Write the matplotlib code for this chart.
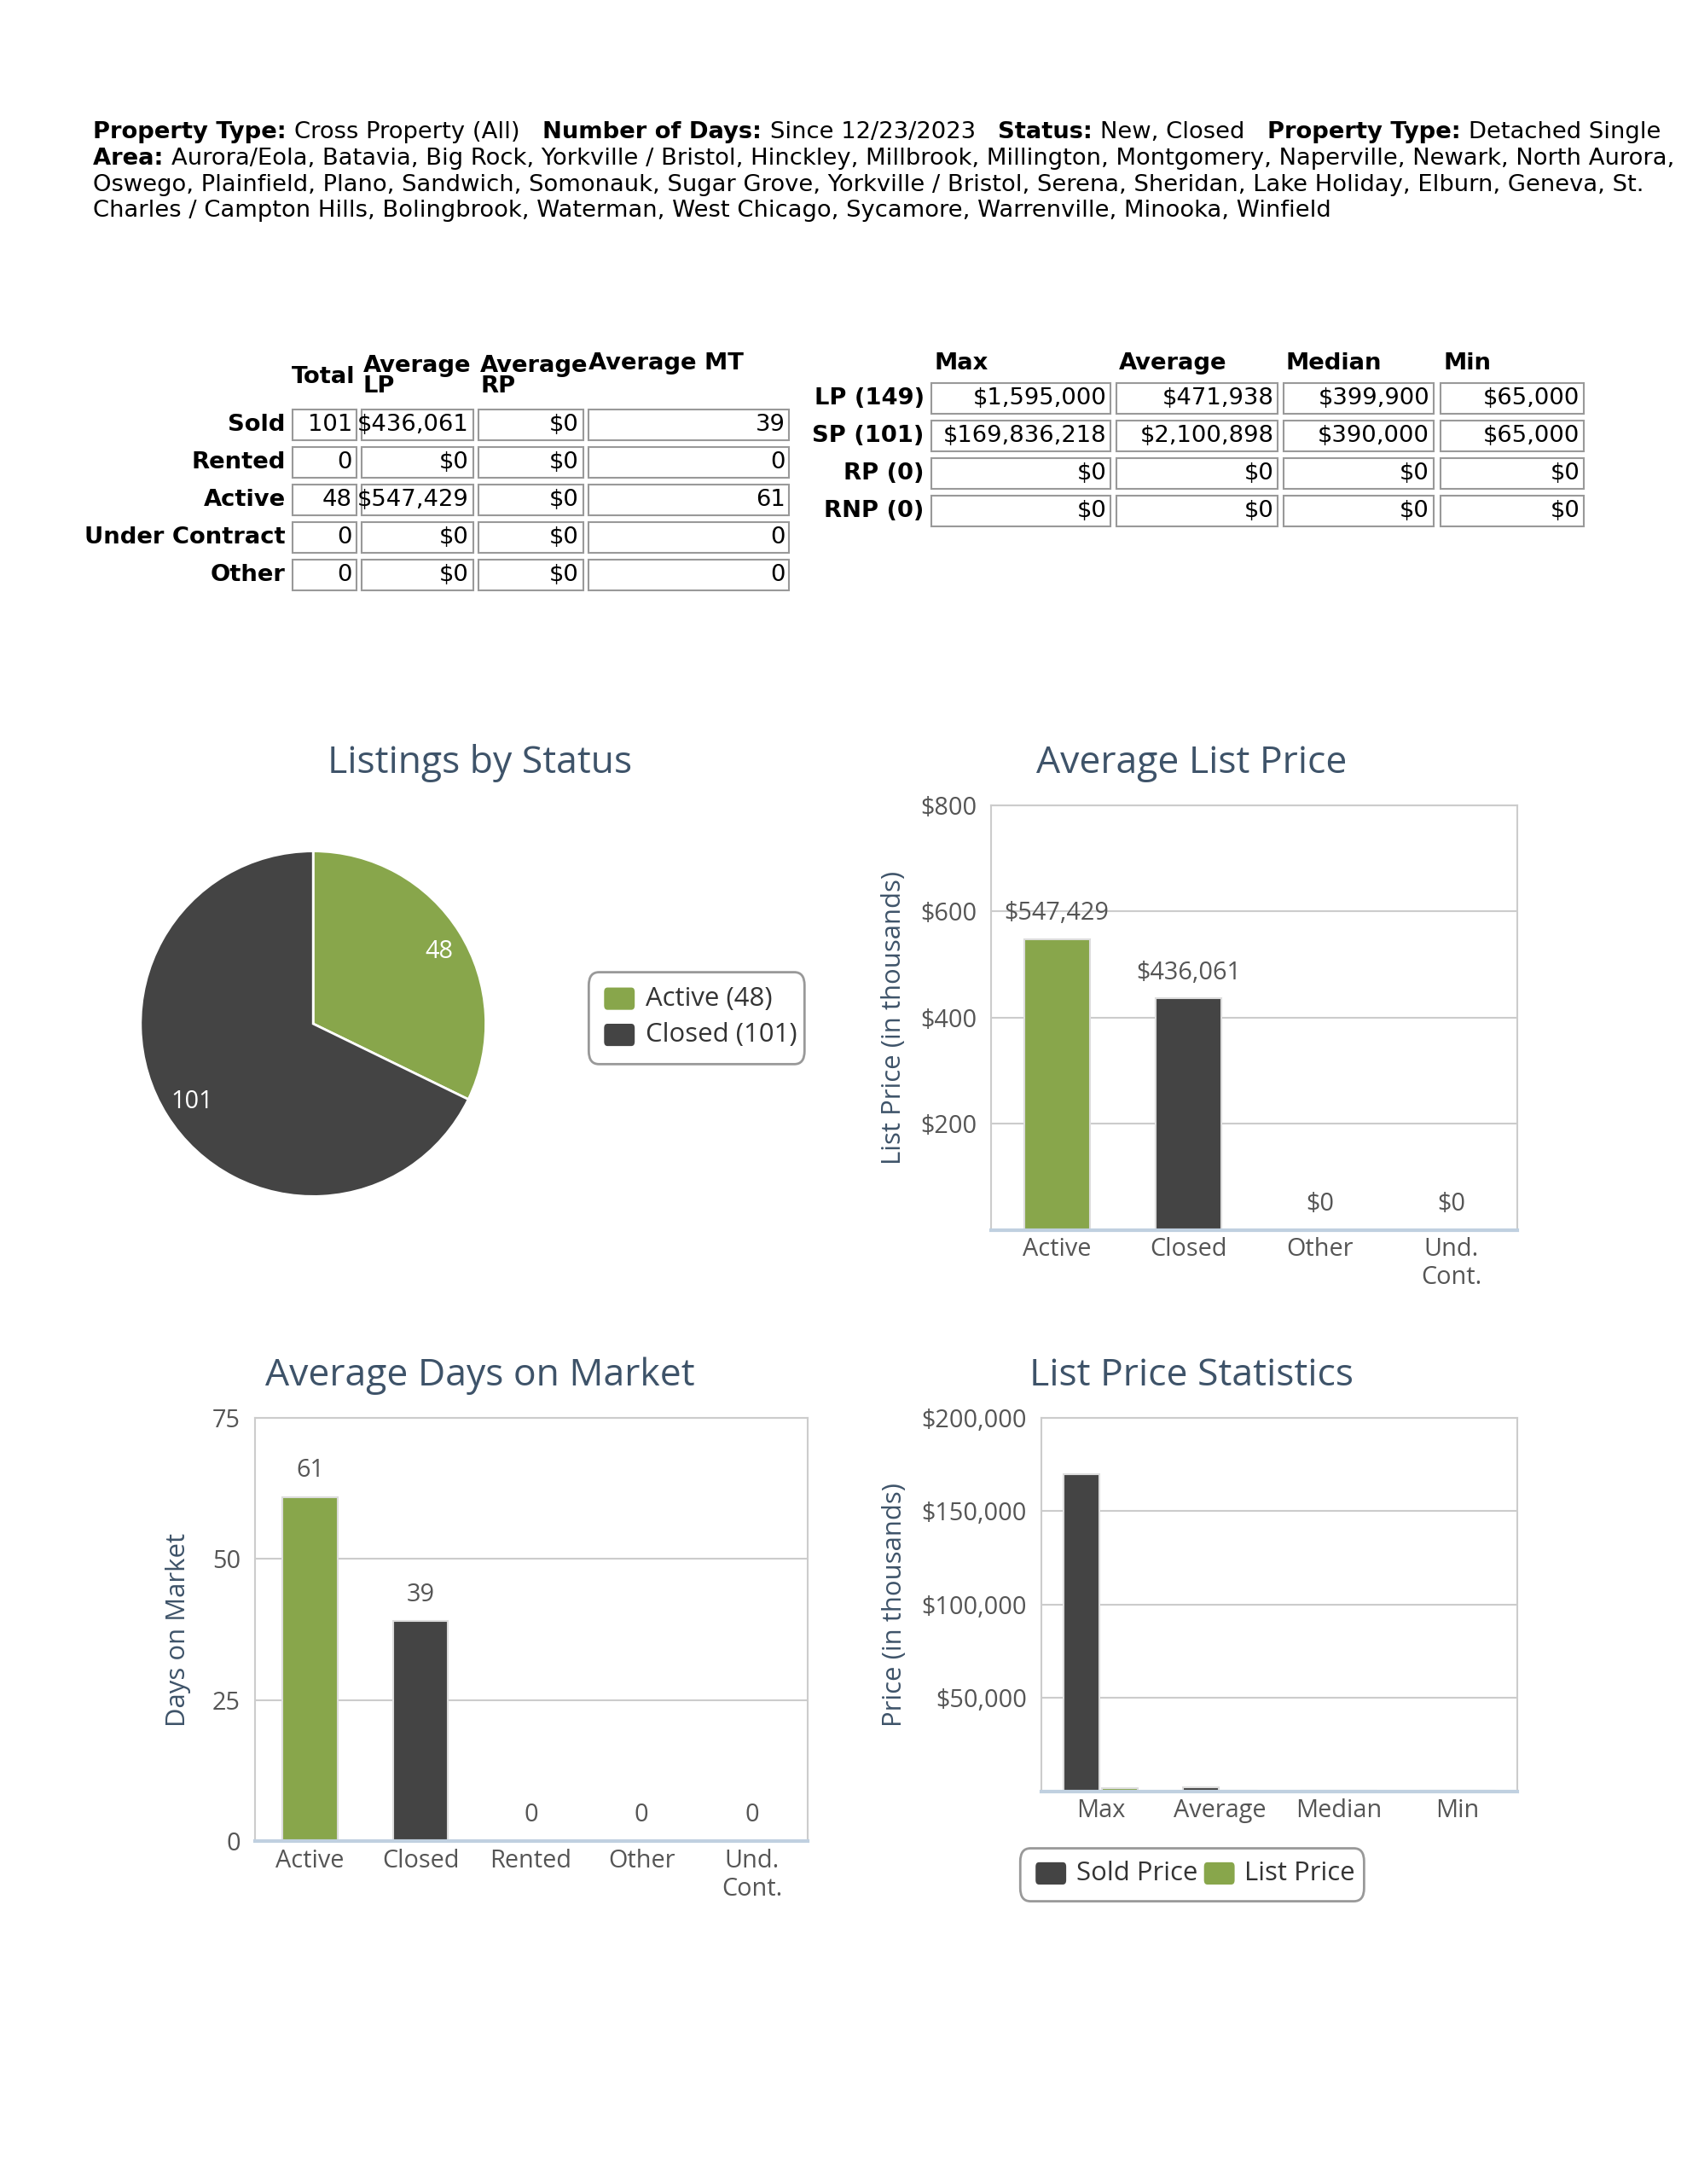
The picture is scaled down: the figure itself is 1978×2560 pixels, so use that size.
import matplotlib
matplotlib.use("Agg")
import matplotlib.pyplot as plt
from matplotlib.patches import Rectangle, FancyBboxPatch
import numpy as np

plt.rcParams['font.family'] = ['Open Sans', 'DejaVu Sans']

GREEN = '#88a64b'
DARK = '#444444'
TITLE = '#3e5369'
TXT = '#555555'
K = 1.6  # font scale

header = [
    [("Property Type: ", True), ("Cross Property (All)   ", False), ("Number of Days: ", True),
     ("Since 12/23/2023   ", False), ("Status: ", True), ("New, Closed   ", False),
     ("Property Type: ", True), ("Detached Single", False)],
    [("Area: ", True), ("Aurora/Eola, Batavia, Big Rock, Yorkville / Bristol, Hinckley, Millbrook, Millington, Montgomery, Naperville, Newark, North Aurora,", False)],
    [("Oswego, Plainfield, Plano, Sandwich, Somonauk, Sugar Grove, Yorkville / Bristol, Serena, Sheridan, Lake Holiday, Elburn, Geneva, St.", False)],
    [("Charles / Campton Hills, Bolingbrook, Waterman, West Chicago, Sycamore, Warrenville, Minooka, Winfield", False)],
]

lt_rows = ["Sold", "Rented", "Active", "Under Contract", "Other"]
lt_total = ["101", "0", "48", "0", "0"]
lt_avg_lp = ["$436,061", "$0", "$547,429", "$0", "$0"]
lt_avg_rp = ["$0", "$0", "$0", "$0", "$0"]
lt_avg_mt = ["39", "0", "61", "0", "0"]

rt_rows = ["LP (149)", "SP (101)", "RP (0)", "RNP (0)"]
rt_max = ["$1,595,000", "$169,836,218", "$0", "$0"]
rt_avg = ["$471,938", "$2,100,898", "$0", "$0"]
rt_med = ["$399,900", "$390,000", "$0", "$0"]
rt_min = ["$65,000", "$65,000", "$0", "$0"]

pie_labels = ["Active", "Closed"]
pie_values = [48, 101]

alp_cats = ["Active", "Closed", "Other", "Und.\nCont."]
alp_vals = [547.429, 436.061, 0, 0]
alp_lbls = ["$547,429", "$436,061", "$0", "$0"]

dom_cats = ["Active", "Closed", "Rented", "Other", "Und.\nCont."]
dom_vals = [61, 39, 0, 0, 0]

lps_cats = ["Max", "Average", "Median", "Min"]
lps_sold = [169836.218, 2100.898, 390.0, 65.0]
lps_list = [1595.0, 471.938, 399.9, 65.0]

W, H = 1212.0, 1568.0
fig = plt.figure(figsize=(19.78, 25.6), dpi=100)
r_ = fig.canvas.get_renderer()

def fx(x): return x / W
def fy(y): return 1 - y / H

FS = 12.3 * K
TF = ['DejaVu Sans']
for i, line in enumerate(header):
    y = [95, 114, 133, 151][i]
    x = fx(67)
    for s, b in line:
        txt = fig.text(x, fy(y), s, fontsize=FS, fontweight='bold' if b else 'normal',
                       va='center', ha='left', family=TF)
        bb = txt.get_window_extent(renderer=r_)
        x += bb.width / fig.bbox.width

def cell(x0, x1, yc, text, fs=12.3 * K):
    h = 22
    fig.add_artist(Rectangle((fx(x0), fy(yc + h / 2)), fx(x1 - x0), (h / H),
                             transform=fig.transFigure, fill=False, ec='#999999', lw=1.5))
    fig.text(fx(x1 - 3), fy(yc), text, ha='right', va='center', fontsize=fs, family=TF)

TB = 12.3 * K
cols = [(210, 256), (260, 340), (344, 419), (423, 567)]
fig.text(fx(255), fy(271), "Total", ha='right', va='center', fontsize=TB, fontweight='bold', family=TF)
fig.text(fx(261), fy(270), "Average\nLP", ha='left', va='center', fontsize=TB, fontweight='bold', family=TF, linespacing=0.9)
fig.text(fx(345), fy(270), "Average\nRP", ha='left', va='center', fontsize=TB, fontweight='bold', family=TF, linespacing=0.9)
fig.text(fx(423), fy(261), "Average MT", ha='left', va='center', fontsize=TB, fontweight='bold', family=TF)
for i, r in enumerate(lt_rows):
    yc = 305 + 27 * i
    fig.text(fx(205), fy(yc), r, ha='right', va='center', fontsize=TB, fontweight='bold', family=TF)
    for (x0, x1), v in zip(cols, [lt_total[i], lt_avg_lp[i], lt_avg_rp[i], lt_avg_mt[i]]):
        cell(x0, x1, yc, v)

rcols = [(669, 798), (802, 918), (922, 1030), (1035, 1138)]
for (x0, _), hd in zip(rcols, ["Max", "Average", "Median", "Min"]):
    fig.text(fx(x0 + 2), fy(261), hd, ha='left', va='center', fontsize=TB, fontweight='bold', family=TF)
for i, r in enumerate(rt_rows):
    yc = 286 + 27 * i
    fig.text(fx(664), fy(yc), r, ha='right', va='center', fontsize=TB, fontweight='bold', family=TF)
    for (x0, x1), v in zip(rcols, [rt_max[i], rt_avg[i], rt_med[i], rt_min[i]]):
        cell(x0, x1, yc, v)

# pie
r = 124
axp = fig.add_axes([fx(225 - r), fy(735 + r), fx(2 * r), 2 * r / H])
wedges, _ = axp.pie(pie_values, colors=[GREEN, DARK], startangle=90, counterclock=False,
                    wedgeprops=dict(ec='white', lw=2))
axp.set_xlim(-1, 1); axp.set_ylim(-1, 1)
axp.set_aspect('equal')
axp.text(0.73, 0.42, str(pie_values[0]), color='white', fontsize=13 * K, ha='center', va='center')
axp.text(-0.7, -0.45, str(pie_values[1]), color='white', fontsize=13 * K, ha='center', va='center')
fig.text(fx(345), fy(548), "Listings by Status", ha='center', va='center', fontsize=20 * K, color=TITLE)
fig.add_artist(FancyBboxPatch((fx(423), fy(764)), fx(155), 66 / H, transform=fig.transFigure,
                              boxstyle='round,pad=0,rounding_size=0.006', fill=False, ec='#999999', lw=2))
for i, (lab, c) in enumerate(zip(pie_labels, [GREEN, DARK])):
    yc = 717 + 26 * i
    fig.add_artist(FancyBboxPatch((fx(434), fy(yc + 8)), fx(22), 16 / H, transform=fig.transFigure,
                                  boxstyle='round,pad=0,rounding_size=0.002', fc=c, ec='none'))
    fig.text(fx(464), fy(yc), f"{lab} ({pie_values[i]})", va='center', fontsize=14 * K, color='#333333')

def style(ax):
    for s in ['top', 'right', 'left']:
        ax.spines[s].set_color('#cccccc')
        ax.spines[s].set_linewidth(1.5)
    ax.spines['bottom'].set_color('#c0d0e0')
    ax.spines['bottom'].set_linewidth(3)
    ax.tick_params(axis='y', length=0, labelsize=13 * K, colors=TXT, pad=12)
    ax.tick_params(axis='x', length=0, labelsize=13 * K, colors=TXT, pad=6)
    ax.grid(axis='y', color='#cccccc', lw=1.5)
    ax.set_axisbelow(True)

ax1 = fig.add_axes([fx(712), fy(883), fx(378), (883 - 578) / H])
ax1.bar(range(4), alp_vals, width=0.5, color=[GREEN, DARK, GREEN, DARK], ec='#dddddd', lw=1.5)
ax1.set_xlim(-0.5, 3.5); ax1.set_ylim(0, 800)
ax1.set_yticks([200, 400, 600, 800]); ax1.set_yticklabels(["$200", "$400", "$600", "$800"])
ax1.set_xticks(range(4)); ax1.set_xticklabels(alp_cats)
for i, (v, l) in enumerate(zip(alp_vals, alp_lbls)):
    ax1.text(i, v + 25, l, ha='center', va='bottom', fontsize=13 * K, color=TXT)
ax1.set_ylabel("List Price (in thousands)", fontsize=14 * K, color=TITLE, labelpad=12)
style(ax1)
fig.text(fx(856), fy(548), "Average List Price", ha='center', va='center', fontsize=20 * K, color=TITLE)

ax2 = fig.add_axes([fx(183), fy(1322), fx(397), (1322 - 1018) / H])
ax2.bar(range(5), dom_vals, width=0.5, color=[GREEN, DARK, GREEN, DARK, GREEN], ec='#dddddd', lw=1.5)
ax2.set_xlim(-0.5, 4.5); ax2.set_ylim(0, 75)
ax2.set_yticks([0, 25, 50, 75])
ax2.set_xticks(range(5)); ax2.set_xticklabels(dom_cats)
for i, v in enumerate(dom_vals):
    ax2.text(i, v + 2.5, str(v), ha='center', va='bottom', fontsize=13 * K, color=TXT)
ax2.set_ylabel("Days on Market", fontsize=14 * K, color=TITLE, labelpad=18)
style(ax2)
fig.text(fx(345), fy(988), "Average Days on Market", ha='center', va='center', fontsize=20 * K, color=TITLE)

ax3 = fig.add_axes([fx(748), fy(1286), fx(342), (1286 - 1018) / H])
x = np.arange(4)
ax3.bar(x - 0.16, lps_sold, width=0.3, color=DARK, ec='#dddddd', lw=1.5, label="Sold Price")
ax3.bar(x + 0.16, lps_list, width=0.3, color=GREEN, ec='#dddddd', lw=1.5, label="List Price")
ax3.set_xlim(-0.5, 3.5); ax3.set_ylim(0, 200000)
ax3.set_yticks([50000, 100000, 150000, 200000])
ax3.set_yticklabels(["$50,000", "$100,000", "$150,000", "$200,000"])
ax3.set_xticks(x); ax3.set_xticklabels(lps_cats)
ax3.set_ylabel("Price (in thousands)", fontsize=14 * K, color=TITLE, labelpad=12)
style(ax3)
fig.text(fx(856), fy(988), "List Price Statistics", ha='center', va='center', fontsize=20 * K, color=TITLE)
fig.add_artist(FancyBboxPatch((fx(733), fy(1365)), fx(247), 38 / H, transform=fig.transFigure,
                              boxstyle='round,pad=0,rounding_size=0.006', fill=False, ec='#999999', lw=2))
for xx, lab, c in [(744, "Sold Price", DARK), (865, "List Price", GREEN)]:
    fig.add_artist(FancyBboxPatch((fx(xx), fy(1353)), fx(22), 16 / H, transform=fig.transFigure,
                                  boxstyle='round,pad=0,rounding_size=0.002', fc=c, ec='none'))
    fig.text(fx(xx + 29), fy(1345), lab, va='center', fontsize=14 * K, color='#333333')

fig.savefig("out.png", dpi=100, facecolor='white')
